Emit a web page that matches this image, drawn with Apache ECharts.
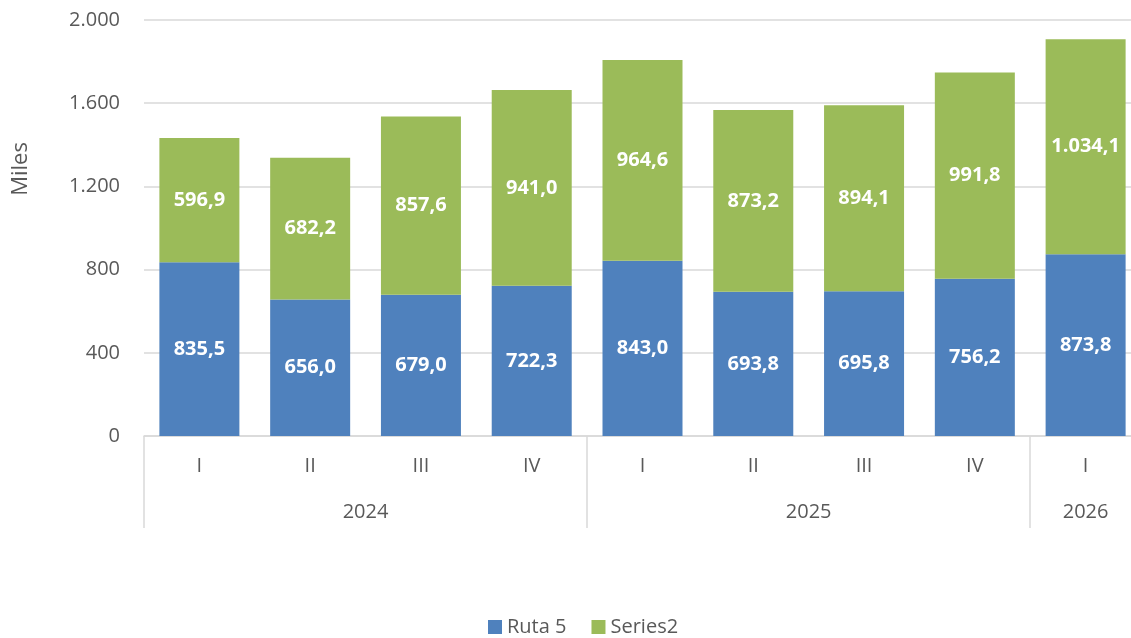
<!DOCTYPE html>
<html>
<head>
<meta charset="utf-8">
<script src="https://cdn.jsdelivr.net/npm/echarts@6/dist/echarts.min.js"></script>
<style>
	html, body { margin: 0; padding: 0; background: #fff; }
	#chart { width: 1131px; height: 638px; }
</style>
</head>
<body>
<div id="chart"></div>
<script>
var quarters = ['I', 'II', 'III', 'IV', 'I', 'II', 'III', 'IV', 'I'];
var years = ['2024', '2025', '2026'];
var yearStart = [0, 4, 8];
var yearSize = [4, 4, 1];
var ruta5 = [835.5, 656.0, 679.0, 722.3, 843.0, 693.8, 695.8, 756.2, 873.8];
var series2 = [596.9, 682.2, 857.6, 941.0, 964.6, 873.2, 894.1, 991.8, 1034.1];

var fontFam = '"Open Sans", "Noto Sans", sans-serif';
var txtColor = '#595959';
var lineColor = '#d9d9d9';

function fmtNum(v, dec) {
	var s = v.toFixed(dec);
	var parts = s.split('.');
	parts[0] = parts[0].replace(/\B(?=(\d{3})+(?!\d))/g, '.');
	return parts.length > 1 ? parts[0] + ',' + parts[1] : parts[0];
}

// year label positions (center of each year group on a 0..9 scale)
var yearCenter = {};
for (var i = 0; i < years.length; i++) {
	yearCenter[yearStart[i] + yearSize[i] / 2] = years[i];
}

var chart = echarts.init(document.getElementById('chart'));
var option = {
	animation: false,
	// plot area runs a little past the right edge, as in the original
	grid: { left: 144, width: 997, top: 20, bottom: 202, outerBoundsMode: 'none', containLabel: false },
	legend: {
		top: 617,
		left: 488,
		padding: 0,
		itemWidth: 14,
		itemHeight: 14,
		itemGap: 25,
		icon: 'rect',
		textStyle: { color: txtColor, fontSize: 20, fontFamily: fontFam },
		data: ['Ruta 5', 'Series2']
	},
	xAxis: [{
		type: 'category',
		data: quarters,
		axisLine: { lineStyle: { color: lineColor, width: 1.5 } },
		axisTick: {
			show: true,
			length: 92,
			interval: function(index) { return yearStart.indexOf(index) >= 0; },
			lineStyle: { color: lineColor, width: 1.5 }
		},
		axisLabel: { color: txtColor, fontSize: 20, fontFamily: fontFam, margin: 20 }
	}, {
		type: 'value',
		position: 'bottom',
		min: 0,
		max: 9,
		interval: 0.5,
		axisLine: { show: false },
		axisTick: { show: false },
		splitLine: { show: false },
		axisLabel: {
			color: txtColor, fontSize: 20, fontFamily: fontFam, margin: 66,
			showMinLabel: true, showMaxLabel: true,
			formatter: function(v) { return yearCenter[v] || ''; }
		}
	}],
	yAxis: {
		type: 'value',
		min: 0,
		max: 2000,
		interval: 400,
		name: 'Miles',
		nameLocation: 'middle',
		nameGap: 112,
		nameTextStyle: { color: txtColor, fontSize: 22, fontFamily: fontFam, padding: [0, 0, 0, 118] },
		axisLine: { show: false },
		axisTick: { show: false },
		splitLine: { lineStyle: { color: lineColor, width: 1.5 } },
		axisLabel: {
			color: txtColor, fontSize: 20, fontFamily: fontFam, margin: 24,
			formatter: function(v) { return fmtNum(v, 0); }
		}
	},
	series: [{
		name: 'Ruta 5',
		type: 'bar',
		stack: 'total',
		barWidth: 80,
		itemStyle: { color: '#4f81bd' },
		label: {
			show: true, position: 'inside', color: '#fff', fontWeight: 'bold',
			fontSize: 20, fontFamily: fontFam,
			formatter: function(p) { return fmtNum(p.value, 1); }
		},
		data: ruta5
	}, {
		name: 'Series2',
		type: 'bar',
		stack: 'total',
		barWidth: 80,
		itemStyle: { color: '#9bbb59' },
		label: {
			show: true, position: 'inside', color: '#fff', fontWeight: 'bold',
			fontSize: 20, fontFamily: fontFam,
			formatter: function(p) { return fmtNum(p.value, 1); }
		},
		data: series2
	}]
};
chart.setOption(option);
</script>
</body>
</html>
